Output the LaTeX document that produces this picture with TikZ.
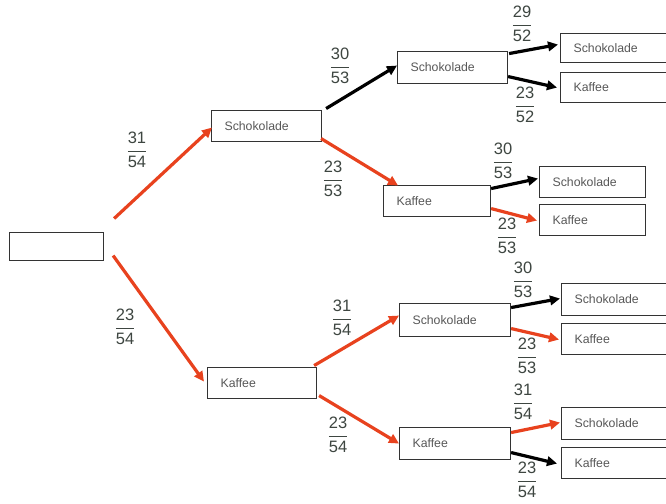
\documentclass[tikz,border=0pt]{standalone}
\usepackage{fontspec}
\setmainfont{Liberation Sans}
\usetikzlibrary{arrows.meta,calc}

\definecolor{boxline}{HTML}{333333}
\definecolor{labeltext}{HTML}{585858}
\definecolor{fractext}{HTML}{3E4641}
\definecolor{pathred}{HTML}{E8421E}

\tikzset{
  box/.style={draw=boxline, line width=1.1pt, anchor=north west,
    inner xsep=13pt, inner ysep=0pt, align=left,
    font=\fontsize{12.3}{14}\selectfont, text=labeltext},
  rootbox/.style={box, minimum width=94pt, minimum height=28pt},
  midbox/.style={box, text width=84pt, minimum height=31pt},
  leafbox/.style={box, text width=114pt, minimum height=31pt},
  shortleaf/.style={box, text width=80pt, minimum height=31pt},
  prob/.style={inner sep=0pt, text=fractext, font=\fontsize{16.5}{20}\selectfont},
  branch/.style={line width=3.2pt, -{Triangle[length=10pt,width=9.5pt]}},
  redbranch/.style={branch, draw=pathred, color=pathred},
  blackbranch/.style={branch, draw=black},
}
\newcommand\prb[2]{$\displaystyle\frac{\mbox{#1}}{\mbox{#2}}$}

\begin{document}
\begin{tikzpicture}[x=1pt, y=-1pt]
  \clip (0,0) rectangle (666,503);
  \fill[white] (0,0) rectangle (666,503);

  % first stage
  \node[rootbox] (root) at (9,232) {};
  \node[midbox, minimum height=31pt] (s1) at (211,110) {Schokolade};
  \node[midbox, text width=83pt] (k1) at (207,367) {Kaffee};

  % second stage
  \node[midbox, minimum height=32pt] (s2a) at (397,51) {Schokolade};
  \node[midbox, text width=81pt] (k2a) at (383,185) {Kaffee};
  \node[midbox, text width=85pt, minimum height=33pt] (s2b) at (399,303) {Schokolade};
  \node[midbox, text width=85pt, minimum height=32pt] (k2b) at (399,427) {Kaffee};

  % outcomes
  \node[leafbox, minimum height=29pt] (o1) at (560,33) {Schokolade};
  \node[leafbox, minimum height=30pt] (o2) at (560,72) {Kaffee};
  \node[shortleaf] (o3) at (539,166) {Schokolade};
  \node[shortleaf] (o4) at (539,204) {Kaffee};
  \node[leafbox, minimum height=32pt] (o5) at (561,283) {Schokolade};
  \node[leafbox] (o6) at (561,323) {Kaffee};
  \node[leafbox, minimum height=32pt] (o7) at (561,407) {Schokolade};
  \node[leafbox] (o8) at (561,447) {Kaffee};

  % branches
  \draw[redbranch] ($(root.east)+(10,-28)$) -- ($(s1.west)+(1,1.5)$);
  \draw[redbranch] ($(root.east)+(9,9)$) -- ($(k1.west)+(-3,-1.5)$);
  \draw[blackbranch] ($(s1.east)+(4,-17.5)$) -- ($(s2a.west)+(0,-2)$);
  \draw[redbranch] ($(s1.east)+(-1,12.5)$) -- ($(k2a.west)+(15,-15.5)$);
  \draw[blackbranch] ($(s2a.east)+(1,-14)$) -- ($(o1.west)+(-2,-3.5)$);
  \draw[blackbranch] ($(s2a.east)+(0,9)$) -- ($(o2.west)+(-3,0)$);
  \draw[blackbranch] ($(k2a.east)+(0,-12.5)$) -- ($(o3.west)+(-1,-3.5)$);
  \draw[redbranch] ($(k2a.east)+(0,7.5)$) -- ($(o4.west)+(-2,0.5)$);
  \draw[redbranch] ($(k1.east)+(-3,-17.5)$) -- ($(s2b.west)+(0,-4.5)$);
  \draw[redbranch] ($(k1.east)+(2,12.5)$) -- ($(k2b.west)+(0,0)$);
  \draw[blackbranch] ($(s2b.east)+(0,-12.5)$) -- ($(o5.west)+(-1,-1)$);
  \draw[redbranch] ($(s2b.east)+(0,8.5)$) -- ($(o6.west)+(-2,0.5)$);
  \draw[redbranch] ($(k2b.east)+(0,-11)$) -- ($(o7.west)+(-1,-1)$);
  \draw[blackbranch] ($(k2b.east)+(0,9)$) -- ($(o8.west)+(-4,0.5)$);

  % probabilities
  \node[prob] (p1) at (137,150) {\prb{31}{54}};
  \node[prob] (p2) at (125,327) {\prb{23}{54}};
  \node[prob] (p3) at (340,66) {\prb{30}{53}};
  \node[prob] (p4) at (333,179) {\prb{23}{53}};
  \node[prob] (p5) at (522,24) {\prb{29}{52}};
  \node[prob] (p6) at (525,105) {\prb{23}{52}};
  \node[prob] (p7) at (503,161) {\prb{30}{53}};
  \node[prob] (p8) at (507,236) {\prb{23}{53}};
  \node[prob] (p9) at (342,318) {\prb{31}{54}};
  \node[prob] (p10) at (338,435) {\prb{23}{54}};
  \node[prob] (p11) at (523,280) {\prb{30}{53}};
  \node[prob] (p12) at (527,356) {\prb{23}{53}};
  \node[prob] (p13) at (523,402) {\prb{31}{54}};
  \node[prob] (p14) at (527,480) {\prb{23}{54}};
\end{tikzpicture}
\end{document}
